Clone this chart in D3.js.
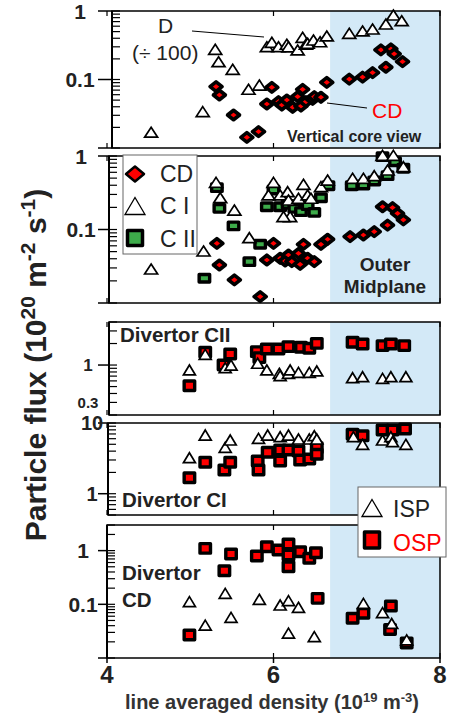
<!DOCTYPE html>
<html>
<head>
<meta charset="utf-8">
<script src="https://cdn.jsdelivr.net/npm/d3@7"></script>
<style>
  body { margin: 0; background: #fff; }
  text { font-family: "Liberation Sans", Arial, Helvetica, sans-serif; }
</style>
</head>
<body>
<svg id="chart" width="450" height="713"></svg>
<script>
// [line averaged density (1e19 m-3), particle flux (1e20 m-2 s-1)]
var coreD = [[4.53,0.017],[5.15,0.034],[5.30,0.276],[5.34,0.182],[5.51,0.141],[5.70,0.072],[5.83,0.083],[5.92,0.301],[5.98,0.349],[6.06,0.301],[6.16,0.327],[6.18,0.30],[6.29,0.270],[6.35,0.413],[6.39,0.327],[6.41,0.338],[6.48,0.377],[6.56,0.356],[6.64,0.432],[6.91,0.472],[7.07,0.511],[7.19,0.546],[7.35,0.646],[7.44,0.874],[7.54,0.722]];
var coreCD = [[5.31,0.0785],[5.35,0.0594],[5.52,0.0303],[5.68,0.0143],[5.82,0.0173],[5.98,0.0769],[5.92,0.0439],[6.06,0.0474],[6.10,0.0424],[6.16,0.0502],[6.23,0.0393],[6.29,0.0561],[6.33,0.041],[6.35,0.0719],[6.39,0.0474],[6.47,0.0514],[6.49,0.0561],[6.57,0.055],[6.64,0.091],[6.91,0.101],[7.07,0.108],[7.19,0.126],[7.35,0.151],[7.29,0.270],[7.41,0.279],[7.45,0.236],[7.55,0.182]];
var midCI = [[4.53,0.029],[5.16,0.051],[5.31,0.438],[5.36,0.271],[5.53,0.184],[5.71,0.0774],[6.00,0.438],[5.94,0.295],[6.08,0.295],[6.17,0.327],[6.18,0.252],[6.20,0.150],[6.12,0.150],[6.30,0.266],[6.36,0.412],[6.41,0.295],[6.45,0.266],[6.57,0.383],[6.65,0.471],[6.95,0.497],[7.08,0.497],[7.21,0.540],[7.37,0.645],[7.31,1.02],[7.44,1.02],[7.56,0.716]];
var midCII = [[5.32,0.371],[5.35,0.194],[5.52,0.112],[5.71,0.0365],[5.17,0.0217],[5.84,0.0629],[5.92,0.204],[6.00,0.345],[6.08,0.204],[6.17,0.220],[6.25,0.194],[6.33,0.175],[6.41,0.211],[6.49,0.171],[6.57,0.271],[6.66,0.394],[6.94,0.394],[7.08,0.403],[7.21,0.457],[7.37,0.540],[7.31,0.98],[7.46,0.837],[7.56,0.680]];
var midCD = [[5.32,0.0649],[5.35,0.0329],[5.53,0.0206],[5.84,0.0122],[5.92,0.0385],[6.00,0.0649],[6.08,0.0406],[6.14,0.0373],[6.18,0.045],[6.22,0.0365],[6.30,0.0474],[6.32,0.0336],[6.36,0.0629],[6.41,0.0406],[6.49,0.0365],[6.57,0.0629],[6.65,0.0736],[6.92,0.0798],[7.08,0.0842],[7.21,0.0933],[7.37,0.115],[7.31,0.204],[7.43,0.198],[7.49,0.166],[7.56,0.135]];
var cIIosp = [[4.99,0.514],[5.18,1.51],[5.40,1.00],[5.48,1.43],[5.80,1.54],[5.83,1.27],[5.92,1.68],[6.06,1.68],[6.18,1.81],[6.33,1.77],[6.43,1.72],[6.52,2.01],[6.95,2.08],[7.07,1.97],[7.31,1.87],[7.41,1.97],[7.57,1.87]];
var cIIisp = [[4.99,0.853],[5.18,1.41],[5.42,0.918],[5.49,1.00],[5.81,1.06],[5.92,0.853],[6.07,0.766],[6.08,0.71],[6.18,0.766],[6.20,0.853],[6.30,0.79],[6.43,0.79],[6.52,0.826],[6.95,0.665],[7.07,0.687],[7.31,0.652],[7.41,0.687],[7.59,0.687]];
var cIosp = [[4.99,1.68],[5.18,2.78],[5.41,2.16],[5.48,2.78],[5.81,2.90],[5.82,2.16],[5.93,3.85],[6.08,4.15],[6.08,2.90],[6.18,4.15],[6.30,4.02],[6.32,3.0],[6.43,3.10],[6.52,4.48],[6.52,3.61],[6.95,6.92],[7.07,6.61],[7.31,7.96],[7.43,7.96],[7.58,8.23]];
var cIisp = [[4.99,3.23],[5.18,6.76],[5.42,4.53],[5.48,5.75],[5.82,6.07],[5.93,6.76],[6.08,6.40],[6.18,6.76],[6.30,5.94],[6.43,5.94],[6.49,6.61],[6.52,5.94],[6.96,6.40],[7.07,5.0],[7.31,5.75],[7.41,6.40],[7.43,5.44],[7.59,5.0]];
var cdOsp = [[4.99,0.0268],[5.18,1.10],[5.41,0.423],[5.49,0.865],[5.80,0.794],[5.92,1.18],[6.06,1.03],[6.18,1.33],[6.18,0.83],[6.18,0.50],[6.32,0.955],[6.43,0.72],[6.51,0.915],[6.53,0.129],[6.95,0.055],[7.08,0.068],[7.41,0.093],[7.40,0.034],[7.60,0.019]];
var cdIsp = [[4.99,0.112],[5.18,0.041],[5.42,0.160],[5.49,0.057],[5.83,0.124],[6.08,0.097],[6.18,0.117],[6.18,0.029],[6.30,0.088],[6.49,0.025],[7.08,0.104],[7.31,0.070],[7.42,0.044],[7.60,0.0217]];

var xTicks = [4, 6, 8];
var coreTicks = [1, 0.1];
var midTicks = [1, 0.1];
var cIITicks = [1, 0.3];
var cITicks = [10, 1];
var cdTicks = [1, 0.1];
var shadeFrom = 6.68;

var RED = "#ff0000", GREEN = "#3dab4a", SHADE = "#d3e9f7", INK = "#222";

var svg = d3.select("#chart");
var x = d3.scaleLinear().domain([4, 8]).range([107, 440]);

var panels = [
  { top: 11, bottom: 148, left: 112, dom: [0.01, 1], ticks: coreTicks, lx: 80, fs: 21, ext: true },
  { top: 156, bottom: 303, left: 109, dom: [0.01, 1], ticks: midTicks, lx: 81, fs: 21, ext: true },
  { top: 322, bottom: 415, left: 109, dom: [0.2, 4], ticks: cIITicks, lx: 88, fs: 17, ext: false },
  { top: 423, bottom: 515, left: 108, dom: [0.5, 10], ticks: cITicks, lx: 92, fs: 20, ext: false },
  { top: 525, bottom: 658, left: 107, dom: [0.01, 3], ticks: cdTicks, lx: 83, fs: 21, ext: true }
];

panels.forEach(function (p) {
  p.y = d3.scaleLog().domain(p.dom).range([p.bottom, p.top]);
  p.g = svg.append("g");
  var right = x(8);
  p.g.append("rect")
    .attr("x", x(shadeFrom)).attr("y", p.top)
    .attr("width", right - x(shadeFrom)).attr("height", p.bottom - p.top)
    .attr("fill", SHADE);
  p.g.append("rect")
    .attr("x", p.left).attr("y", p.top)
    .attr("width", right - p.left).attr("height", p.bottom - p.top)
    .attr("fill", "none").attr("stroke", "#000").attr("stroke-width", 1.5);
  p.g.append("line")
    .attr("x1", p.left).attr("x2", p.left).attr("y1", p.top).attr("y2", p.bottom)
    .attr("stroke", "#000").attr("stroke-width", 2);
  if (p.ext) {
    p.g.append("line")
      .attr("x1", 98).attr("x2", p.left).attr("y1", p.bottom).attr("y2", p.bottom)
      .attr("stroke", "#000").attr("stroke-width", 1.5);
  }
  // minor log ticks (inward)
  p.g.selectAll(null).data(p.y.ticks()).enter().append("line")
    .attr("x1", p.left).attr("x2", p.left + 8)
    .attr("y1", function (d) { return p.y(d); })
    .attr("y2", function (d) { return p.y(d); })
    .attr("stroke", "#000").attr("stroke-width", 1.2);
  // decade ticks (outward)
  p.g.selectAll(null).data(p.ticks.filter(function (d) {
      return Math.abs(Math.log10(d) - Math.round(Math.log10(d))) < 1e-9;
    })).enter().append("line")
    .attr("x1", 98).attr("x2", p.left)
    .attr("y1", function (d) { return p.y(d); })
    .attr("y2", function (d) { return p.y(d); })
    .attr("stroke", "#000").attr("stroke-width", 1.5);
  p.g.selectAll(null).data(p.ticks).enter().append("text")
    .attr("x", p.lx)
    .attr("y", function (d) { return p.y(d) + (d === 0.3 ? 15 : p.fs) * 0.36; })
    .attr("text-anchor", "middle")
    .attr("font-weight", "bold")
    .attr("font-size", function (d) { return d === 0.3 ? 15 : p.fs; })
    .attr("fill", INK)
    .text(function (d) { return String(d); });
  // x ticks on top and bottom edges
  p.g.selectAll(null).data(xTicks).enter().append("path")
    .attr("d", function (d) {
      return "M" + x(d) + "," + p.top + "v5M" + x(d) + "," + p.bottom + "v-5";
    })
    .attr("stroke", "#000").attr("stroke-width", 1.2);
});

function triPath(w, h) {
  return "M0," + (-h / 2) + "L" + (w / 2) + "," + (h / 2) + "L" + (-w / 2) + "," + (h / 2) + "Z";
}
function diaPath(w, h) {
  return "M0," + (-h / 2) + "L" + (w / 2) + ",0L0," + (h / 2) + "L" + (-w / 2) + ",0Z";
}
function rectPath(w, h) {
  return "M" + (-w / 2) + "," + (-h / 2) + "h" + w + "v" + h + "h" + (-w) + "Z";
}

function drawTri(p, data, w, h) {
  p.g.selectAll(null).data(data).enter().append("path")
    .attr("d", triPath(w, h))
    .attr("transform", function (d) { return "translate(" + x(d[0]) + "," + p.y(d[1]) + ")"; })
    .attr("fill", "#fff").attr("stroke", "#000").attr("stroke-width", 1.7);
}
function drawDia(p, data) {
  p.g.selectAll(null).data(data).enter().append("path")
    .attr("d", diaPath(12, 9.5))
    .attr("transform", function (d) { return "translate(" + x(d[0]) + "," + p.y(d[1]) + ")"; })
    .attr("fill", RED).attr("stroke", "#000").attr("stroke-width", 3.6)
    .attr("stroke-linejoin", "round");
}
function drawSq(p, data, fill, w, h) {
  p.g.selectAll(null).data(data).enter().append("path")
    .attr("d", rectPath(w, h))
    .attr("transform", function (d) { return "translate(" + x(d[0]) + "," + p.y(d[1]) + ")"; })
    .attr("fill", fill).attr("stroke", "#000").attr("stroke-width", 3.4)
    .attr("stroke-linejoin", "round");
}

// vertical core view
drawTri(panels[0], coreD, 13, 10);
drawDia(panels[0], coreCD);
// outer midplane
drawSq(panels[1], midCII, GREEN, 10.5, 7.5);
drawTri(panels[1], midCI, 13, 10);
drawDia(panels[1], midCD);
// divertor panels
drawSq(panels[2], cIIosp, RED, 10.5, 9.5);
drawTri(panels[2], cIIisp, 12, 10);
drawSq(panels[3], cIosp, RED, 10.5, 9.5);
drawTri(panels[3], cIisp, 12, 10);
drawSq(panels[4], cdOsp, RED, 10.5, 9.5);
drawTri(panels[4], cdIsp, 12, 10);

// x axis below bottom panel
var pb = panels[4];
svg.selectAll(null).data(xTicks).enter().append("line")
  .attr("x1", function (d) { return x(d); }).attr("x2", function (d) { return x(d); })
  .attr("y1", pb.bottom).attr("y2", pb.bottom + 5)
  .attr("stroke", "#000").attr("stroke-width", 1.5);
svg.selectAll(null).data(xTicks).enter().append("text")
  .attr("x", function (d) { return x(d); })
  .attr("y", 683)
  .attr("text-anchor", "middle").attr("font-weight", "bold").attr("font-size", 24)
  .attr("fill", INK)
  .text(function (d) { return d; });

var xt = svg.append("text")
  .attr("x", 272).attr("y", 709)
  .attr("text-anchor", "middle").attr("font-weight", "bold").attr("font-size", 20)
  .attr("fill", "#333");
xt.append("tspan").text("line averaged density (10");
xt.append("tspan").attr("dy", -7).attr("font-size", 13).text("19");
xt.append("tspan").attr("dy", 7).text(" m");
xt.append("tspan").attr("dy", -7).attr("font-size", 13).text("-3");
xt.append("tspan").attr("dy", 7).text(")");

var yt = svg.append("text")
  .attr("transform", "translate(46,365) rotate(-90)")
  .attr("text-anchor", "middle").attr("font-weight", "bold").attr("font-size", 30)
  .attr("fill", INK);
yt.append("tspan").text("Particle flux (10");
yt.append("tspan").attr("dy", -11).attr("font-size", 21).text("20");
yt.append("tspan").attr("dy", 11).text(" m");
yt.append("tspan").attr("dy", -11).attr("font-size", 21).text("-2");
yt.append("tspan").attr("dy", 11).text(" s");
yt.append("tspan").attr("dy", -11).attr("font-size", 21).text("-1");
yt.append("tspan").attr("dy", 11).text(")");

// annotations, panel 1
svg.append("text").attr("x", 158).attr("y", 33).attr("font-size", 21).attr("fill", INK).text("D");
svg.append("text").attr("x", 132).attr("y", 60).attr("font-size", 21).attr("fill", INK).text("(\u00f7 100)");
svg.append("line").attr("x1", 192).attr("y1", 31).attr("x2", 264).attr("y2", 37)
  .attr("stroke", "#000").attr("stroke-width", 1);
svg.append("text").attr("x", 372).attr("y", 118).attr("font-size", 21).attr("fill", RED).text("CD");
svg.append("line").attr("x1", 327).attr("y1", 103).attr("x2", 367).attr("y2", 108)
  .attr("stroke", "#000").attr("stroke-width", 1);
svg.append("text").attr("x", 287).attr("y", 142).attr("font-size", 16).attr("font-weight", "bold")
  .attr("fill", INK).text("Vertical core view");

// panel 2
var lg = svg.append("g");
lg.append("rect").attr("x", 123).attr("y", 155).attr("width", 74).attr("height", 99)
  .attr("fill", "#fff").attr("stroke", "#666").attr("stroke-width", 1);
lg.append("path").attr("d", diaPath(18, 15)).attr("transform", "translate(135,174)")
  .attr("fill", RED).attr("stroke", "#000").attr("stroke-width", 2.5).attr("stroke-linejoin", "round");
lg.append("path").attr("d", triPath(20, 17)).attr("transform", "translate(135,206)")
  .attr("fill", "#fff").attr("stroke", "#000").attr("stroke-width", 1.3);
lg.append("path").attr("d", rectPath(15, 15)).attr("transform", "translate(135,238)")
  .attr("fill", GREEN).attr("stroke", "#000").attr("stroke-width", 3.5).attr("stroke-linejoin", "round");
lg.append("text").attr("x", 160).attr("y", 182).attr("font-size", 23).attr("fill", INK).text("CD");
lg.append("text").attr("x", 160).attr("y", 214).attr("font-size", 23).attr("fill", INK).text("C I");
lg.append("text").attr("x", 160).attr("y", 247).attr("font-size", 23).attr("fill", INK).text("C II");
svg.append("text").attr("x", 385).attr("y", 271).attr("text-anchor", "middle")
  .attr("font-size", 19).attr("font-weight", "bold").attr("fill", INK).text("Outer");
svg.append("text").attr("x", 385).attr("y", 293).attr("text-anchor", "middle")
  .attr("font-size", 19).attr("font-weight", "bold").attr("fill", INK).text("Midplane");

// divertor labels
svg.append("text").attr("x", 120).attr("y", 342).attr("font-size", 20.5).attr("font-weight", "bold")
  .attr("fill", INK).text("Divertor CII");
svg.append("text").attr("x", 122).attr("y", 507).attr("font-size", 20.5).attr("font-weight", "bold")
  .attr("fill", INK).text("Divertor CI");
svg.append("text").attr("x", 122).attr("y", 580).attr("font-size", 20.5).attr("font-weight", "bold")
  .attr("fill", INK).text("Divertor");
svg.append("text").attr("x", 122).attr("y", 607).attr("font-size", 20.5).attr("font-weight", "bold")
  .attr("fill", INK).text("CD");

// ISP / OSP legend
var lg2 = svg.append("g");
lg2.append("rect").attr("x", 358).attr("y", 487).attr("width", 88).attr("height", 70)
  .attr("fill", "#fff").attr("stroke", "#666").attr("stroke-width", 1);
lg2.append("path").attr("d", triPath(20, 17)).attr("transform", "translate(372,508)")
  .attr("fill", "#fff").attr("stroke", "#000").attr("stroke-width", 1.3);
lg2.append("path").attr("d", rectPath(15, 16)).attr("transform", "translate(372,540)")
  .attr("fill", RED).attr("stroke", "#000").attr("stroke-width", 3.5).attr("stroke-linejoin", "round");
lg2.append("text").attr("x", 393).attr("y", 517).attr("font-size", 23).attr("fill", INK).text("ISP");
lg2.append("text").attr("x", 393).attr("y", 551).attr("font-size", 23).attr("fill", RED).text("OSP");
</script>
</body>
</html>
